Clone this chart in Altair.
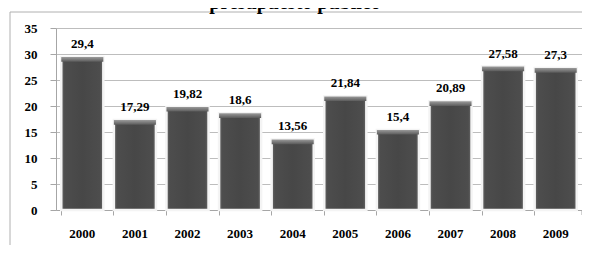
import altair as alt
import pandas as pd

years = ["2000", "2001", "2002", "2003", "2004", "2005", "2006", "2007", "2008", "2009"]
values = [29.4, 17.29, 19.82, 18.6, 13.56, 21.84, 15.4, 20.89, 27.58, 27.3]
y_ticks = [0, 5, 10, 15, 20, 25, 30, 35]
title_text = "presupuesto público"

df = pd.DataFrame({"year": years, "value": values})

W, H = 526, 182
FONT = "'Liberation Serif', 'Times New Roman', Times, serif"

x = alt.X("year:N", sort=years,
          scale=alt.Scale(paddingInner=0.2, paddingOuter=0.1),
          axis=alt.Axis(title=None, bandPosition=0,
                        labelAngle=0, labelFont=FONT, labelFontWeight="bold",
                        labelFontSize=13, labelColor="black", labelPadding=12,
                        tickSize=5, tickColor="#a6a6a6", domainColor="#a6a6a6",
                        grid=False))
y = alt.Y("value:Q", scale=alt.Scale(domain=[0, 35], nice=False),
          axis=alt.Axis(title=None, values=y_ticks, labelFont=FONT,
                        labelFontWeight="bold", labelFontSize=13,
                        labelColor="black", labelPadding=13, tickSize=6,
                        tickColor="#a6a6a6", domainColor="#a6a6a6",
                        gridColor="#bdbdbd", grid=True, labelOverlap=False))

base = alt.Chart(df)

body_grad = alt.Gradient(
    gradient="linear", x1=0, x2=1, y1=0, y2=0,
    stops=[alt.GradientStop(offset=0, color="#6a6a6a"),
           alt.GradientStop(offset=0.08, color="#4d4d4d"),
           alt.GradientStop(offset=0.5, color="#474747"),
           alt.GradientStop(offset=0.92, color="#4d4d4d"),
           alt.GradientStop(offset=1, color="#6a6a6a")])

bars = base.mark_bar(fill=body_grad, stroke="#f4f4f4", strokeWidth=2.5).encode(
    x=x, y=y)

bevel_grad = alt.Gradient(
    gradient="linear", x1=0, x2=0, y1=0, y2=1,
    stops=[alt.GradientStop(offset=0, color="#9a9a9a"),
           alt.GradientStop(offset=1, color="#5a5a5a")])

bevel = base.transform_calculate(top2="datum.value - 0.9").mark_bar(
    fill=bevel_grad).encode(x=x, y=y, y2="top2:Q")

labels = base.transform_calculate(
    lab="replace(toString(datum.value), '.', ',')").mark_text(
    font=FONT, fontWeight="bold", fontSize=13, color="black",
    baseline="alphabetic", dy=-9).encode(x=x, y=y, text="lab:N")

title = alt.Chart(pd.DataFrame({"t": [title_text]})).mark_text(
    font=FONT, fontWeight="bold", fontSize=20, color="black",
    baseline="alphabetic", align="center").encode(
    x=alt.value(239), y=alt.value(-19), text="t:N")

frame_left = alt.Chart(pd.DataFrame({"a": [0]})).mark_rule(
    color="#b0b0b0", strokeWidth=1).encode(
    x=alt.value(-46), y=alt.value(-16), y2=alt.value(240))
frame_top = alt.Chart(pd.DataFrame({"a": [0]})).mark_rule(
    color="#b0b0b0", strokeWidth=1).encode(
    x=alt.value(-46), x2=alt.value(560), y=alt.value(-16))
end_tick = alt.Chart(pd.DataFrame({"a": [0]})).mark_rule(
    color="#a6a6a6", strokeWidth=1).encode(
    x=alt.value(W), y=alt.value(H), y2=alt.value(H + 5))

chart = alt.layer(frame_left, frame_top, bars, bevel, labels, title, end_tick).properties(
    width=W, height=H,
    autosize=alt.AutoSizeParams(type="none"),
    padding={"left": 48, "top": 20, "right": 0, "bottom": 35},
).configure_view(stroke=None)

chart.save("out.html", embed_options={"renderer": "svg", "actions": False})
